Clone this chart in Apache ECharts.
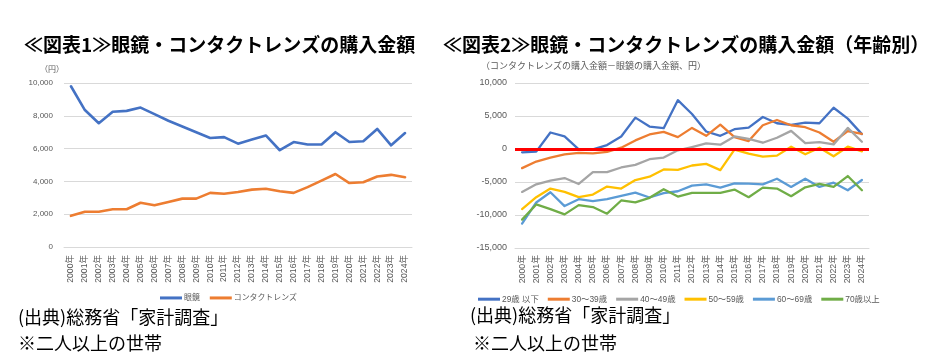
<!DOCTYPE html>
<html>
<head>
<meta charset="utf-8">
<script src="https://cdn.jsdelivr.net/npm/echarts@6/dist/echarts.min.js"></script>
<style>
html,body{margin:0;padding:0;background:#fff;}
#c{width:927px;height:355px;}
</style>
</head>
<body>
<div id="c"></div>
<script>
const years = ['2000年','2001年','2002年','2003年','2004年','2005年','2006年','2007年','2008年','2009年','2010年','2011年','2012年','2013年','2014年','2015年','2016年','2017年','2018年','2019年','2020年','2021年','2022年','2023年','2024年'];

// Chart 1
const glasses  = [9800, 8350, 7550, 8250, 8300, 8500, 8100, 7700, 7350, 7000, 6650, 6700, 6300, 6550, 6800, 5900, 6400, 6250, 6250, 7000, 6400, 6450, 7200, 6200, 6950];
const contacts = [1900, 2150, 2150, 2300, 2300, 2700, 2550, 2750, 2950, 2950, 3300, 3250, 3350, 3500, 3550, 3400, 3300, 3650, 4050, 4450, 3900, 3950, 4300, 4400, 4250];

// Chart 2 (contact - glasses, by age)
const age29 = [-500, -400, 2500, 1900, -50, -50, 600, 1900, 4750, 3400, 3150, 7400, 5300, 2650, 2000, 3000, 3250, 4850, 3900, 3650, 4000, 3900, 6250, 4600, 2250];
const age30 = [-2900, -1900, -1300, -800, -600, -650, -450, 200, 1300, 2200, 2600, 1800, 3200, 2000, 3700, 1800, 1200, 3600, 4400, 3600, 3300, 2500, 1100, 2700, 2300];
const age40 = [-6500, -5350, -4800, -4400, -5300, -3500, -3500, -2800, -2400, -1550, -1300, -200, 300, 850, 650, 1900, 1550, 950, 1700, 2750, 900, 1050, 700, 3200, 1100];
const age50 = [-9100, -7300, -6000, -6500, -7300, -6900, -5700, -6000, -4700, -4200, -3100, -3150, -2500, -2250, -3200, -100, -700, -1150, -1000, 350, -800, 200, -1100, 350, -350];
const age60 = [-11300, -8100, -6550, -8650, -7600, -7900, -7600, -7100, -6600, -7350, -6700, -6400, -5550, -5350, -5850, -5200, -5250, -5350, -4500, -5750, -4500, -5750, -5100, -6250, -4700];
const age70 = [-10700, -8400, -9100, -9900, -8500, -8800, -9800, -7800, -8100, -7400, -6100, -7200, -6650, -6650, -6650, -6150, -7300, -5850, -6000, -7150, -5800, -5300, -5750, -4100, -6250];

const names1 = ['眼鏡', 'コンタクトレンズ'];
const names2 = ['29歳 以下', '30～39歳', '40～49歳', '50～59歳', '60～69歳', '70歳以上'];
const yTicks1 = {min: 0, max: 10000, interval: 2000};
const yTicks2 = {min: -15000, max: 10000, interval: 5000};

const FONT = 'Liberation Sans, Noto Sans CJK JP, sans-serif';
const TXT = '#595959';
const GRIDC = '#d9d9d9';
const fmt = v => v.toLocaleString('en-US');

const chart = echarts.init(document.getElementById('c'), null, {renderer: 'canvas'});

function lineSeries(name, data, color, xi, w) {
  return {
    name, type: 'line', data, xAxisIndex: xi, yAxisIndex: xi,
    symbol: 'none', showSymbol: false, smooth: false,
    lineStyle: {color, width: w, cap: 'round', join: 'round'},
    itemStyle: {color},
    emphasis: {disabled: true}, animation: false
  };
}

const colors2 = ['#4472C4', '#ED7D31', '#A5A5A5', '#FFC000', '#5B9BD5', '#70AD47'];
const data2 = [age29, age30, age40, age50, age60, age70];

const series = [
  lineSeries(names1[0], glasses, '#4472C4', 0, 2.6),
  lineSeries(names1[1], contacts, '#ED7D31', 0, 2.6)
];
data2.forEach((d, i) => series.push(lineSeries(names2[i], d, colors2[i], 1, 2.3)));
series[series.length - 1].markLine = {
  silent: true, symbol: 'none', animation: false,
  label: {show: false},
  lineStyle: {color: '#FF0000', width: 3, type: 'solid'},
  data: [{yAxis: 0}]
};
series[series.length - 1].z = 3;

const option = {
  animation: false,
  backgroundColor: '#fff',
  textStyle: {fontFamily: FONT},
  grid: [
    {left: 64, right: 515, top: 83, bottom: 108},
    {left: 515, right: 58, top: 83, bottom: 107}
  ],
  xAxis: [0, 1].map(i => ({
    type: 'category', gridIndex: i, data: years, boundaryGap: true,
    axisLine: {onZero: false, lineStyle: {color: GRIDC, width: 1}},
    axisTick: {show: false},
    axisLabel: {interval: 0, rotate: 90, color: TXT, fontSize: i === 0 ? 8.6 : 8.8, fontFamily: FONT, margin: i === 0 ? 8 : 7}
  })),
  yAxis: [
    {type: 'value', gridIndex: 0, min: yTicks1.min, max: yTicks1.max, interval: yTicks1.interval,
     axisLine: {show: false}, axisTick: {show: false},
     splitLine: {lineStyle: {color: GRIDC, width: 1}},
     axisLabel: {formatter: fmt, color: TXT, fontSize: 8, fontFamily: FONT, margin: 11}},
    {type: 'value', gridIndex: 1, min: yTicks2.min, max: yTicks2.max, interval: yTicks2.interval,
     axisLine: {show: false}, axisTick: {show: false},
     splitLine: {lineStyle: {color: GRIDC, width: 1}},
     axisLabel: {formatter: fmt, color: TXT, fontSize: 9, fontFamily: FONT, margin: 8}}
  ],
  legend: [
    {data: names1, left: 155, top: 289, icon: 'rect', itemWidth: 22, itemHeight: 3, itemGap: 10,
     textStyle: {color: TXT, fontSize: 7.9, fontFamily: FONT, padding: [0, 0, 0, -3]}},
    {data: names2, left: 473, top: 290, icon: 'rect', itemWidth: 22, itemHeight: 3, itemGap: 9,
     textStyle: {color: TXT, fontSize: 8.4, fontFamily: FONT, padding: [0, 0, 0, -3]}}
  ],
  graphic: [
    {type: 'text', left: 24, top: 35, style: {text: '≪図表1≫眼鏡・コンタクトレンズの購入金額', font: 'bold 19px "Noto Sans CJK JP"', fill: '#000'}},
    {type: 'text', left: 443, top: 35, style: {text: '≪図表2≫眼鏡・コンタクトレンズの購入金額（年齢別）', font: 'bold 19px "Noto Sans CJK JP"', fill: '#000'}},
    {type: 'text', left: 40, top: 65, style: {text: '（円）', font: '8px "Noto Sans CJK JP"', fill: TXT}},
    {type: 'text', left: 481, top: 61, style: {text: '（コンタクトレンズの購入金額－眼鏡の購入金額、円）', font: '9px "Noto Sans CJK JP"', fill: TXT}},
    {type: 'text', left: 18, top: 308, style: {text: '(出典)総務省「家計調査」', font: '18px "Noto Sans CJK JP"', fill: '#000'}},
    {type: 'text', left: 18, top: 334, style: {text: '※二人以上の世帯', font: '18px "Noto Sans CJK JP"', fill: '#000'}},
    {type: 'text', left: 470, top: 306, style: {text: '(出典)総務省「家計調査」', font: '18px "Noto Sans CJK JP"', fill: '#000'}},
    {type: 'text', left: 473, top: 334, style: {text: '※二人以上の世帯', font: '18px "Noto Sans CJK JP"', fill: '#000'}}
  ],
  series
};
chart.setOption(option);
</script>
</body>
</html>
